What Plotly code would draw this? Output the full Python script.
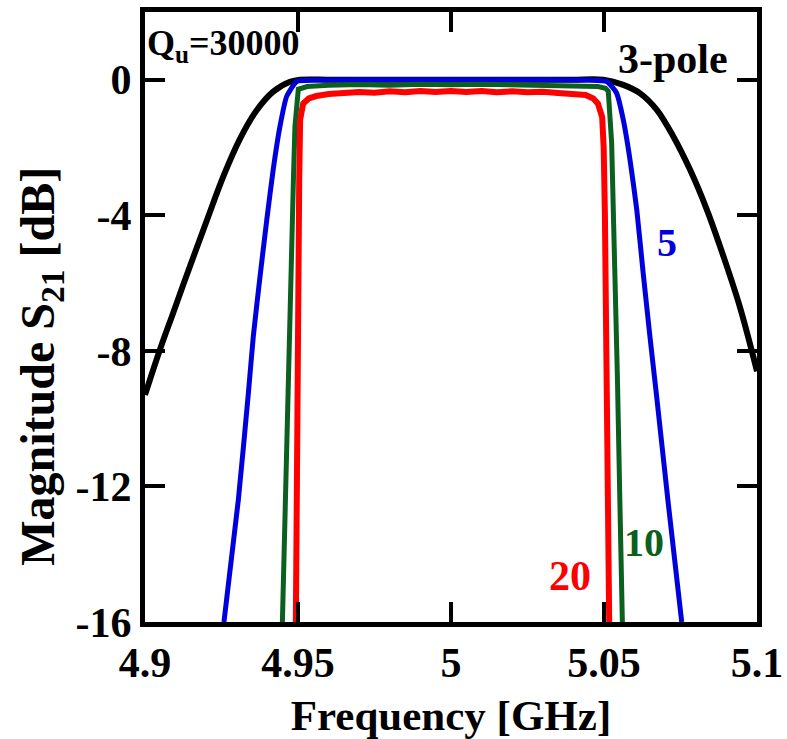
import plotly.graph_objects as go

# ---- data ----
black_f = [4.9000, 4.9049, 4.9092, 4.9147, 4.9202, 4.9256, 4.9310, 4.9365, 4.9419, 4.9474, 4.9507,
           4.960, 4.970, 4.980, 4.990, 5.000, 5.010, 5.020, 5.030, 5.040, 5.0498,
           5.0563, 5.0618, 5.0672, 5.0727, 5.0781, 5.0836, 5.0890, 5.0944, 5.1000]
black_db = [-9.30, -7.96, -6.88, -5.50, -4.15, -2.85, -1.75, -0.90, -0.35, -0.06, 0.0,
            0.0, 0.0, 0.0, 0.0, 0.0, 0.0, 0.0, 0.0, 0.0, 0.0,
            -0.15, -0.40, -0.88, -1.68, -2.65, -3.83, -5.20, -6.70, -8.60]

blue_f = [4.9258, 4.9305, 4.9338, 4.9354, 4.9376, 4.9398, 4.9419, 4.9441, 4.9463, 4.9496, 4.9550,
          4.970, 4.985, 5.000, 5.015, 5.030, 5.045,
          5.0509, 5.0541, 5.0563, 5.0585, 5.0607, 5.0628, 5.0650, 5.0672, 5.0710, 5.0754]
blue_db = [-16.0, -12.4, -9.23, -7.57, -5.80, -4.13, -2.65, -1.38, -0.49, -0.05, -0.01,
           0.0, 0.0, 0.0, 0.0, 0.0, -0.01,
           -0.05, -0.39, -1.18, -2.36, -3.83, -5.70, -7.57, -9.34, -12.5, -16.0]

green_f = [4.9449, 4.9458, 4.9466, 4.9473, 4.9479, 4.9485, 4.9490, 4.9495, 4.9501, 4.9530,
           4.960, 4.970, 4.980, 4.990, 5.000, 5.010, 5.020, 5.030, 5.040, 5.0480, 5.0505,
           5.0514, 5.0525, 5.0536, 5.0544, 5.0552, 5.0560]
green_db = [-16.0, -12.5, -8.85, -6.50, -4.33, -2.95, -1.38, -0.60, -0.28, -0.20,
            -0.16, -0.14, -0.16, -0.13, -0.15, -0.13, -0.15, -0.14, -0.16, -0.20, -0.25,
            -0.34, -1.86, -5.30, -8.85, -12.5, -16.0]

red_f = [4.9493, 4.9495, 4.9496, 4.9500, 4.9504, 4.9507, 4.9517, 4.9535, 4.9560,
         4.960, 4.965, 4.970, 4.975, 4.980, 4.985, 4.990, 4.995, 5.000, 5.005, 5.010,
         5.015, 5.020, 5.025, 5.030, 5.035, 5.040, 5.044,
         5.0465, 5.0480, 5.0494, 5.0499, 5.0503, 5.0508, 5.0512, 5.0515, 5.0517]
red_db = [-16.0, -12.5, -8.85, -5.0, -2.9, -1.18, -0.70, -0.55, -0.48,
          -0.42, -0.38, -0.36, -0.38, -0.34, -0.37, -0.33, -0.36, -0.33, -0.36, -0.33,
          -0.37, -0.34, -0.37, -0.35, -0.39, -0.40, -0.45,
          -0.55, -0.70, -1.10, -2.0, -4.0, -8.0, -8.85, -12.0, -16.0]

x_ticks = [4.9, 4.95, 5.0, 5.05, 5.1]
x_ticklabels = ["4.9", "4.95", "5", "5.05", "5.1"]
y_ticks = [0, -4, -8, -12, -16]
y_ticklabels = ["0", "-4", "-8", "-12", "-16"]

FONT = "Liberation Serif"
fig = go.Figure()
fig.add_trace(go.Scatter(x=black_f, y=black_db, mode="lines", line=dict(color="#000000", width=6, shape="spline", smoothing=1.0)))
fig.add_trace(go.Scatter(x=blue_f, y=blue_db, mode="lines", line=dict(color="#0000DD", width=5, shape="spline", smoothing=0.5)))
fig.add_trace(go.Scatter(x=green_f, y=green_db, mode="lines", line=dict(color="#0B6020", width=5)))
fig.add_trace(go.Scatter(x=red_f, y=red_db, mode="lines", line=dict(color="#FF0000", width=6)))

def ann(x, y, text, color, size, xanchor="center", xref="x", yref="y", angle=0):
    fig.add_annotation(x=x, y=y, xref=xref, yref=yref, text=text, showarrow=False,
                       xanchor=xanchor, yanchor="middle", textangle=angle,
                       font=dict(family=FONT, size=size, color=color, weight="bold"))

ann(0.0, 1.0, "Q<sub>u</sub>=30000", "#000000", 36, xanchor="left", xref="paper")
ann(5.0724, 0.6, "3-pole", "#000000", 42)
ann(5.0706, -4.8, "5", "#0000DD", 40)
ann(5.0631, -13.65, "10", "#0B6020", 40)
ann(5.0389, -14.64, "20", "#FF0000", 42)
# y-axis title (placed below the plot centre, as in the reference)
ann(-0.17, 0.42, "Magnitude S<sub>21</sub> [dB]", "#000000", 48, xref="paper", yref="paper", angle=-90)

tickfont = dict(family=FONT, size=42, color="black", weight="bold")
fig.update_xaxes(range=[4.9, 5.1], tickvals=x_ticks, ticktext=x_ticklabels,
                 ticks="inside", ticklen=20, tickwidth=4, tickcolor="black",
                 showline=True, linewidth=5, linecolor="black", mirror="ticks",
                 showgrid=False, zeroline=False, tickfont=tickfont, automargin=False,
                 title=dict(text="Frequency [GHz]", font=dict(family=FONT, size=43, color="black", weight="bold"), standoff=21))
fig.update_yaxes(range=[-16, 2], tickvals=y_ticks, ticktext=y_ticklabels,
                 ticks="inside", ticklen=20, tickwidth=4, tickcolor="black",
                 showline=True, linewidth=5, linecolor="black", mirror="ticks",
                 showgrid=False, zeroline=False, tickfont=tickfont, automargin=False)
fig.update_layout(width=787, height=739, showlegend=False,
                  margin=dict(l=145, r=30, t=12, b=117),
                  plot_bgcolor="white", paper_bgcolor="white")
fig.write_html("out.html", config={"displayModeBar": False},
               post_script="document.body.style.margin='0px';")
